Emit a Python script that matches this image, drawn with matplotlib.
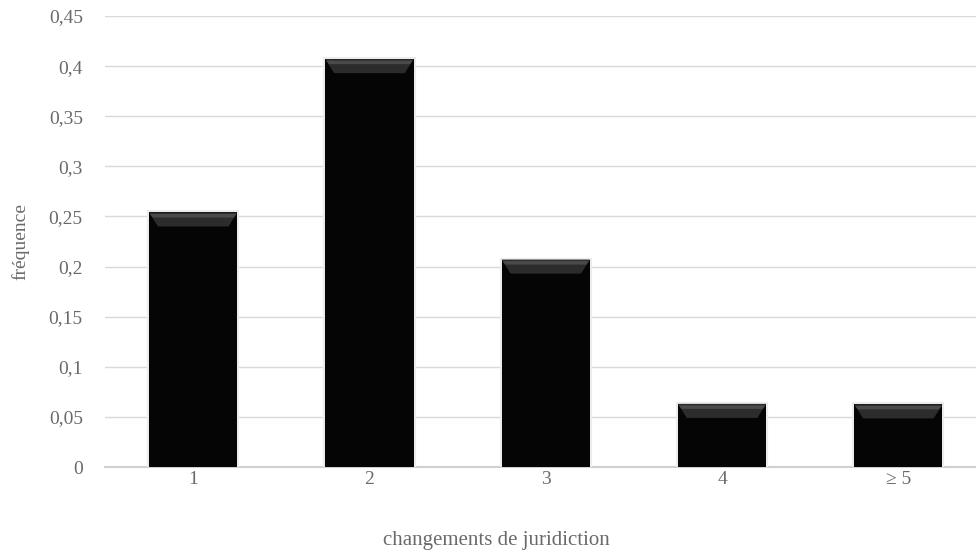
import matplotlib.pyplot as plt
import matplotlib.patheffects as pe
from matplotlib.patches import Polygon
import numpy as np

categories = ['1', '2', '3', '4', '\u2265 5']
values = [0.254, 0.407, 0.207, 0.063, 0.0625]
yticks = [0, 0.05, 0.1, 0.15, 0.2, 0.25, 0.3, 0.35, 0.4, 0.45]
ytick_labels = ['0', '0,05', '0,1', '0,15', '0,2', '0,25', '0,3', '0,35', '0,4', '0,45']

plt.rcParams['font.family'] = ['Liberation Serif', 'DejaVu Serif']
grey = '#6a6a6a'

fig = plt.figure(figsize=(9.76, 5.53), dpi=100)
# plot area runs a little past the right edge of the canvas, as in the original
ax = fig.add_axes([0.1076, 0.1555, 0.9032, 0.8155])

x = np.arange(len(categories))
width = 0.50
bars = ax.bar(x, values, width=width, color='#050505', zorder=3,
              path_effects=[pe.withStroke(linewidth=3, foreground='#ececec'), pe.Normal()])

# bevel at the top of each bar
for b in bars:
    x0, w, h = b.get_x(), b.get_width(), b.get_height()
    band = 0.014
    inset = w * 0.1
    top = Polygon([[x0, h], [x0 + w, h], [x0 + w - inset, h - band], [x0 + inset, h - band]],
                  closed=True, facecolor='#2c2c2c', edgecolor='none', zorder=4)
    ax.add_patch(top)
    hl = Polygon([[x0 + 0.005, h - 0.0015], [x0 + w - 0.005, h - 0.0015],
                  [x0 + w - 0.02, h - 0.005], [x0 + 0.02, h - 0.005]],
                 closed=True, facecolor='#4a4a4a', edgecolor='none', zorder=5)
    ax.add_patch(hl)

ax.set_xlim(-0.5, len(categories) - 0.5)
ax.set_ylim(0, 0.45)
ax.set_yticks(yticks)
ax.set_yticklabels(ytick_labels)
ax.set_xticks(x)
ax.set_xticklabels(categories)
ax.yaxis.grid(True, color='#d9d9d9', linewidth=1, zorder=0)
ax.set_axisbelow(True)

for s in ['top', 'right', 'left']:
    ax.spines[s].set_visible(False)
ax.spines['bottom'].set_color('#d0d0d0')
ax.spines['bottom'].set_linewidth(1.5)
ax.tick_params(axis='both', length=0, colors=grey, labelsize=14)
ax.tick_params(axis='y', pad=16)
ax.tick_params(axis='x', pad=3)

ax.set_ylabel('fr\u00e9quence', color=grey, fontsize=14, labelpad=14)
ax.set_xlabel('changements de juridiction', color=grey, fontsize=15)
# keep the x label centred on the visible canvas
ax.xaxis.set_label_coords((496.5 - 105) / (0.9032 * 976), -0.142, transform=ax.transAxes)

fig.savefig('out.png', dpi=100)
